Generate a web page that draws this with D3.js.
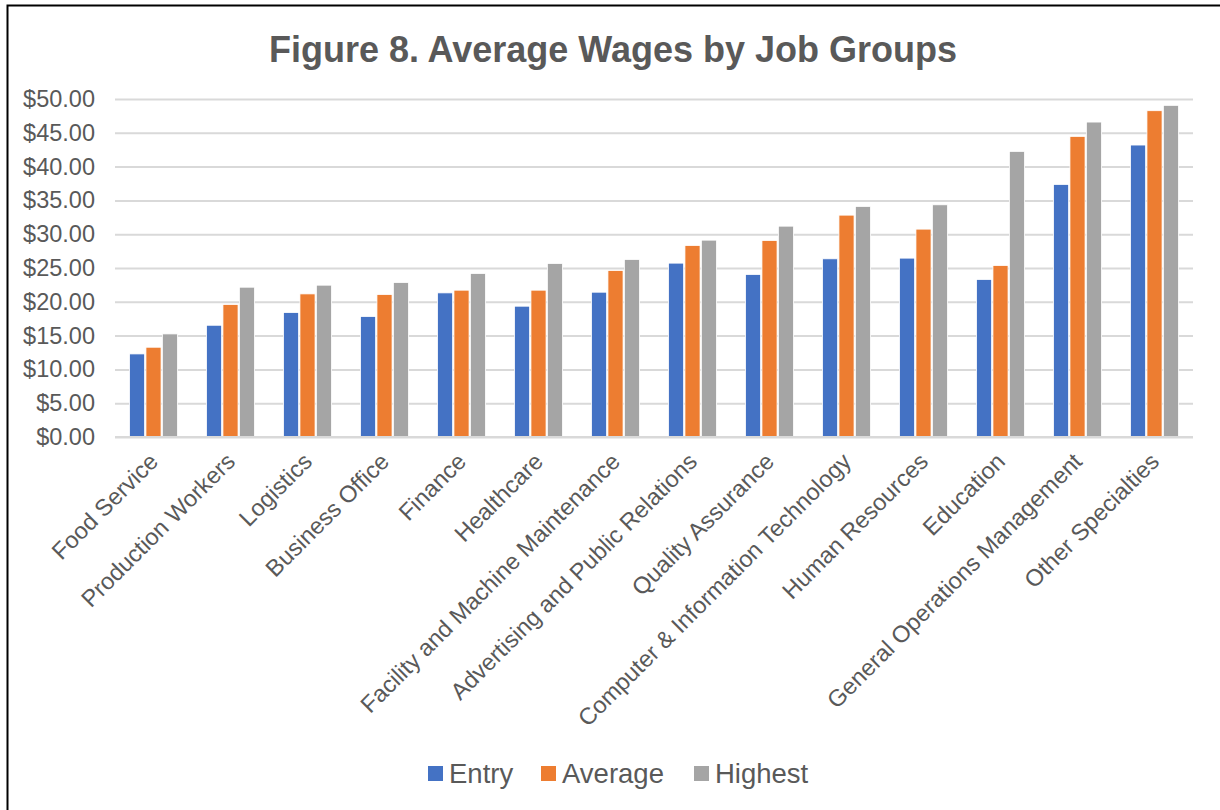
<!DOCTYPE html>
<html>
<head>
<meta charset="utf-8">
<script src="https://cdnjs.cloudflare.com/ajax/libs/d3/7.8.5/d3.min.js"></script>
<style>
  body { margin: 0; background: #fff; }
  text { font-family: "Liberation Sans", Arial, sans-serif; fill: #595959; }
</style>
</head>
<body>
<div id="chart"></div>
<script>
//Figure 8 - wages by job group, three series per group

var categories = ["Food Service", "Production Workers", "Logistics", "Business Office",
  "Finance", "Healthcare", "Facility and Machine Maintenance",
  "Advertising and Public Relations", "Quality Assurance",
  "Computer & Information Technology", "Human Resources", "Education",
  "General Operations Management", "Other Specialties"];

var seriesNames = ["Entry", "Average", "Highest"];

var entry   = [12.29, 16.53, 18.41, 17.82, 21.32, 19.35, 21.42, 25.72, 24.04, 26.36, 26.46, 23.30, 37.36, 43.19];
var average = [13.28, 19.60, 21.17, 21.08, 21.72, 21.72, 24.63, 28.33, 29.07, 32.82, 30.75, 25.37, 44.47, 48.27];
var highest = [15.25, 22.16, 22.46, 22.85, 24.19, 25.67, 26.26, 29.12, 31.19, 34.11, 34.35, 42.25, 46.59, 49.06];

var yTicks = [0, 5, 10, 15, 20, 25, 30, 35, 40, 45, 50];

var colors = ["#4472C4", "#ED7D31", "#A5A5A5"];

var W = 1220, H = 810;
var plot = { left: 115, right: 1193, top: 99, bottom: 437 };

var svg = d3.select("#chart").append("svg")
  .attr("width", W)
  .attr("height", H);

//outer frame (only top and left edges show in the picture)
svg.append("rect")
  .attr("x", 7.5).attr("y", 5.5)
  .attr("width", 1240).attr("height", 830)
  .attr("fill", "none")
  .attr("stroke", "#000")
  .attr("stroke-width", 2);

svg.append("text")
  .attr("x", 613).attr("y", 62)
  .attr("text-anchor", "middle")
  .style("font-size", "36px")
  .style("font-weight", "bold")
  .text("Figure 8. Average Wages by Job Groups");

var x = d3.scaleBand()
  .domain(categories)
  .range([plot.left, plot.right]);

var xs = d3.scaleBand()
  .domain(seriesNames)
  .range([0, 48])
  .paddingInner(0.08);

var y = d3.scaleLinear()
  .domain([0, 50])
  .range([plot.bottom, plot.top]);

//gridlines + y labels
var yAxis = svg.append("g")
  .attr("transform", "translate(" + plot.left + ",0)")
  .call(d3.axisLeft(y)
    .tickValues(yTicks)
    .tickSize(-(plot.right - plot.left))
    .tickPadding(20)
    .tickFormat(function(d){ return "$" + d3.format(".2f")(d); }));

yAxis.select(".domain").remove();
yAxis.selectAll(".tick line")
  .attr("stroke", "#d9d9d9")
  .attr("stroke-width", 2);
yAxis.selectAll(".tick text")
  .attr("fill", "#595959")
  .style("font-size", "23.5px")
  .style("font-family", "\"Liberation Sans\", Arial, sans-serif");

//bars
var rows = categories.map(function(c, i){
  return { cat: c, vals: [entry[i], average[i], highest[i]] };
});

var groups = svg.selectAll("g.grp")
  .data(rows)
  .enter().append("g")
  .attr("class", "grp")
  .attr("transform", function(d){
    return "translate(" + (x(d.cat) + x.bandwidth()/2 - 24) + ",0)";
  });

groups.selectAll("rect")
  .data(function(d){
    return d.vals.map(function(v, k){ return { name: seriesNames[k], v: v, k: k }; });
  })
  .enter().append("rect")
  .attr("x", function(d){ return xs(d.name); })
  .attr("width", xs.bandwidth())
  .attr("y", function(d){ return y(d.v); })
  .attr("height", function(d){ return y(0) - y(d.v); })
  .attr("fill", function(d){ return colors[d.k]; })
  .attr("stroke", "#fff")
  .attr("stroke-width", 0.8);

//baseline
svg.append("line")
  .attr("x1", plot.left).attr("x2", plot.right)
  .attr("y1", y(0)).attr("y2", y(0))
  .attr("stroke", "#d9d9d9")
  .attr("stroke-width", 2);

//rotated category labels
svg.selectAll("text.cat")
  .data(categories)
  .enter().append("text")
  .attr("class", "cat")
  .attr("text-anchor", "end")
  .style("font-size", "23.5px")
  .attr("transform", function(d){
    var cx = x(d) + x.bandwidth()/2 + 6;
    return "translate(" + cx + "," + 463 + ") rotate(-45)";
  })
  .text(function(d){ return d; });

//legend
var legendX = [428, 541, 694];
var legend = svg.selectAll("g.leg")
  .data(seriesNames)
  .enter().append("g")
  .attr("class", "leg")
  .attr("transform", function(d, i){ return "translate(" + legendX[i] + ",766)"; });

legend.append("rect")
  .attr("width", 15).attr("height", 15)
  .attr("fill", function(d, i){ return colors[i]; });

legend.append("text")
  .attr("x", 21).attr("y", 17)
  .style("font-size", "27.5px")
  .text(function(d){ return d; });
</script>
</body>
</html>
